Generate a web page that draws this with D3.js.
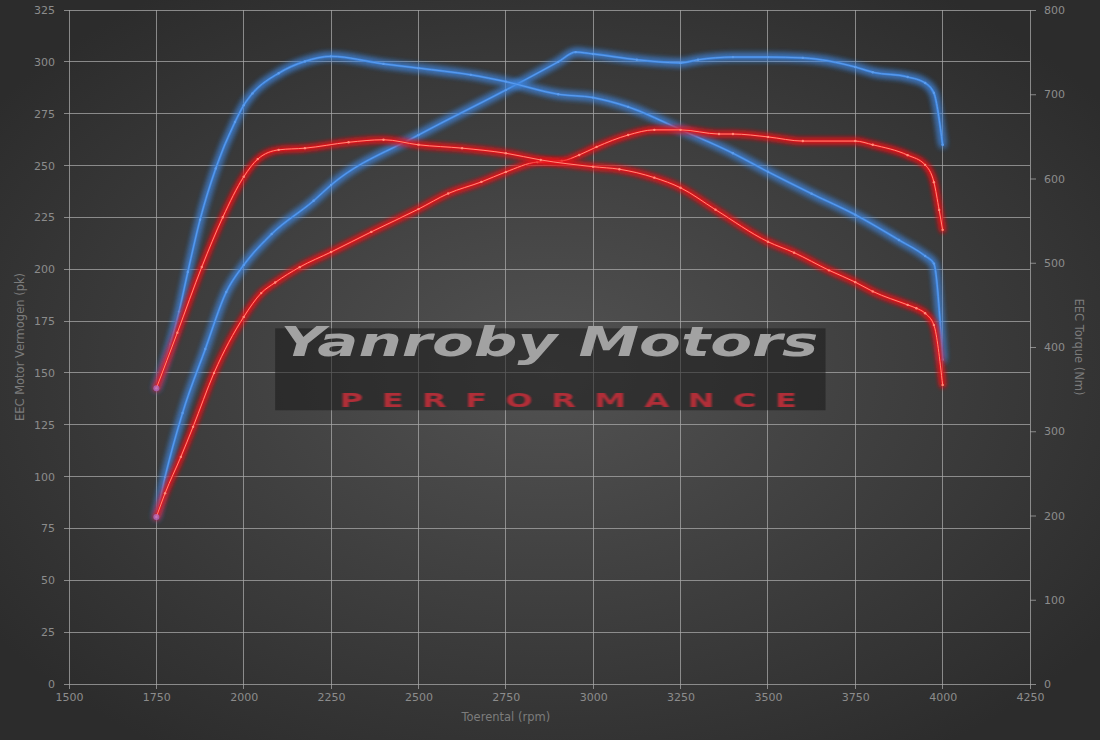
<!doctype html>
<html>
<head>
<meta charset="utf-8">
<title>Vermogen / Koppel</title>
<script src="https://d3js.org/d3.v7.min.js"></script>
<style>
  body { margin: 0; background: #333; }
  svg text { font-family: "DejaVu Sans", sans-serif; }
</style>
</head>
<body>
<div id="chart"></div>
<script>
// ---- data ----
var rpmTicks = [1500, 1750, 2000, 2250, 2500, 2750, 3000, 3250, 3500, 3750, 4000, 4250];
var pkTicks = [0, 25, 50, 75, 100, 125, 150, 175, 200, 225, 250, 275, 300, 325];
var nmTicks = [0, 100, 200, 300, 400, 500, 600, 700, 800];

// tuned power (pk)
var tunedPowerRpm = [1750, 1775, 1825, 1890, 1950, 2000, 2080, 2200, 2250, 2500, 2750, 2900, 2950, 3000, 3125, 3250, 3300, 3400, 3500, 3600, 3750, 3800, 3900, 3950, 3975, 4000];
var tunedPower    = [80.5, 99.8, 130.7, 161.5, 189, 202, 217, 233, 240.6, 264.7, 286.4, 300, 304.7, 303.8, 301, 299.5, 301, 302.3, 302.3, 301.9, 297.5, 295, 292.7, 289.8, 285, 260];

// stock power (pk)
var stockPowerRpm = [1750, 1775, 1820, 1855, 1915, 2000, 2050, 2090, 2160, 2250, 2365, 2500, 2585, 2680, 2750, 2840, 2910, 2960, 3010, 3100, 3175, 3250, 3360, 3400, 3500, 3600, 3750, 3800, 3900, 3950, 3975, 3990, 4000];
var stockPower    = [80.5, 92, 109.5, 124, 150, 177, 188.5, 193.6, 201, 208.3, 218, 229, 236.5, 242.1, 246.9, 251.7, 252.2, 255.1, 259, 264.7, 267.2, 267.2, 265.2, 265.2, 263.8, 261.8, 261.8, 260, 255, 250.3, 242, 228.6, 219];

// tuned torque (Nm)
var tunedTorqueRpm = [1750, 1790, 1815, 1840, 1875, 1920, 1975, 2000, 2025, 2100, 2175, 2250, 2400, 2500, 2650, 2750, 2900, 3000, 3100, 3250, 3400, 3500, 3625, 3750, 3875, 3950, 3975, 4000];
var tunedTorque    = [351, 403, 442, 489, 551, 612, 667, 687, 701, 725, 739, 745, 736, 731, 723, 715, 700, 696, 685, 658, 630, 608, 582, 557, 527, 508, 499, 385];

// stock torque (Nm)
var stockTorqueRpm = [1750, 1810, 1880, 1940, 2000, 2040, 2100, 2175, 2300, 2400, 2500, 2625, 2750, 2850, 3000, 3075, 3175, 3250, 3350, 3500, 3575, 3675, 3750, 3800, 3900, 3925, 3950, 3975, 4000];
var stockTorque    = [351, 417, 495, 554, 602, 623, 634, 636, 643, 646, 640, 636, 630, 622, 614, 611, 601, 589, 563, 525, 512, 491, 477, 466, 450, 446, 440, 426, 355];

// ---- layout ----
var W = 1100, H = 740;
var margin = {top: 10, right: 70, bottom: 56, left: 69},
    width = W - margin.left - margin.right,
    height = H - margin.top - margin.bottom;

var svg = d3.select("#chart").append("svg")
    .attr("width", W)
    .attr("height", H);

var defs = svg.append("defs");

var bg = defs.append("radialGradient")
    .attr("id", "bg")
    .attr("cx", "50%").attr("cy", "50%").attr("r", "62%");
bg.append("stop").attr("offset", "0%").attr("stop-color", "#525252");
bg.append("stop").attr("offset", "100%").attr("stop-color", "#2c2c2c");

// glow filters for the curves
function glow(id, sd) {
  var f = defs.append("filter").attr("id", id)
      .attr("x", "-10%").attr("y", "-10%").attr("width", "120%").attr("height", "120%");
  f.append("feGaussianBlur").attr("in", "SourceGraphic").attr("stdDeviation", sd).attr("result", "b");
  var m = f.append("feMerge");
  m.append("feMergeNode").attr("in", "b");
  m.append("feMergeNode").attr("in", "b");
}
glow("glowBlue", 3);
glow("glowRed", 2.6);

var wm = defs.append("filter").attr("id", "soft");
wm.append("feGaussianBlur").attr("stdDeviation", 0.7);

svg.append("rect").attr("width", W).attr("height", H).attr("fill", "url(#bg)");

var g = svg.append("g")
    .attr("transform", "translate(" + margin.left + "," + margin.top + ")");

var x = d3.scaleLinear().domain([1500, 4250]).range([0, width]);
var yL = d3.scaleLinear().domain([0, 325]).range([height, 0]);
var yR = d3.scaleLinear().domain([0, 800]).range([height, 0]);

// grid
g.append("g").selectAll("line.h")
  .data(pkTicks).enter().append("line")
    .attr("x1", -5).attr("x2", width)
    .attr("y1", function(d) { return yL(d); })
    .attr("y2", function(d) { return yL(d); })
    .attr("stroke", "#a8a8a8").attr("stroke-opacity", 0.75).attr("stroke-width", 1)
    .attr("shape-rendering", "crispEdges");

g.append("g").selectAll("line.v")
  .data(rpmTicks).enter().append("line")
    .attr("y1", 0).attr("y2", height + 5)
    .attr("x1", function(d) { return x(d); })
    .attr("x2", function(d) { return x(d); })
    .attr("stroke", "#a8a8a8").attr("stroke-opacity", 0.75).attr("stroke-width", 1)
    .attr("shape-rendering", "crispEdges");

// axes
var tickCol = "#8c8c8c";

var xAxis = g.append("g")
    .attr("transform", "translate(0," + height + ")")
    .call(d3.axisBottom(x).tickValues(rpmTicks).tickSize(0).tickPadding(9).tickFormat(d3.format("d")));

var yAxisL = g.append("g")
    .call(d3.axisLeft(yL).tickValues(pkTicks).tickSize(0).tickPadding(14).tickFormat(d3.format("d")));

var yAxisR = g.append("g")
    .attr("transform", "translate(" + width + ",0)")
    .call(d3.axisRight(yR).tickValues(nmTicks).tickSize(6).tickPadding(8).tickFormat(d3.format("d")));

[xAxis, yAxisL, yAxisR].forEach(function(a) {
  a.select(".domain").remove();
  a.selectAll("line").attr("stroke", "#a8a8a8").attr("stroke-opacity", 0.75);
  a.selectAll("text").attr("fill", tickCol).style("font-size", "11px");
});

// axis titles
svg.append("text")
    .attr("transform", "translate(24," + (margin.top + height / 2) + ") rotate(-90)")
    .attr("text-anchor", "middle")
    .attr("fill", "#7c7c7c").style("font-size", "11.5px")
    .text("EEC Motor Vermogen (pk)");

svg.append("text")
    .attr("transform", "translate(1075," + (margin.top + height / 2) + ") rotate(90)")
    .attr("text-anchor", "middle")
    .attr("fill", "#7c7c7c").style("font-size", "11.5px")
    .text("EEC Torque (Nm)");

svg.append("text")
    .attr("x", margin.left + x(2750)).attr("y", 721)
    .attr("text-anchor", "middle")
    .attr("fill", "#7c7c7c").style("font-size", "11.5px")
    .text("Toerental (rpm)");

// watermark
var wmG = g.append("g");
wmG.append("rect")
    .attr("x", x(2090)).attr("y", yL(171.5))
    .attr("width", x(3665) - x(2090)).attr("height", yL(132) - yL(171.5))
    .attr("fill", "#1a1a1a").attr("fill-opacity", 0.55);
wmG.append("text")
    .attr("x", x(2105)).attr("y", yL(158))
    .attr("textLength", 538).attr("lengthAdjust", "spacingAndGlyphs")
    .attr("fill", "#a2a2a2")
    .attr("filter", "url(#soft)")
    .style("font-family", "'DejaVu Sans', sans-serif")
    .style("font-weight", "bold").style("font-style", "italic")
    .style("font-size", "40px")
    .text("Yanroby Motors");
wmG.append("g")
    .attr("transform", "translate(" + x(2275) + "," + yL(133.5) + ") scale(1.6,1)")
  .append("text")
    .attr("textLength", 457 / 1.6).attr("lengthAdjust", "spacing")
    .attr("fill", "#b02e38")
    .attr("filter", "url(#soft)")
    .style("font-family", "'DejaVu Sans', sans-serif")
    .style("font-weight", "bold")
    .style("font-size", "20px")
    .text("PERFORMANCE");

// curves
function series(rpm, vals) {
  return rpm.map(function(r, i) { return [r, vals[i]]; });
}

var curves = [
  {pts: series(tunedPowerRpm, tunedPower), y: yL, col: "#3f86e0", core: "#5c9cec", glow: "glowBlue"},
  {pts: series(tunedTorqueRpm, tunedTorque), y: yR, col: "#3f86e0", core: "#5c9cec", glow: "glowBlue"},
  {pts: series(stockPowerRpm, stockPower), y: yL, col: "#e8141a", core: "#ff8a78", glow: "glowRed"},
  {pts: series(stockTorqueRpm, stockTorque), y: yR, col: "#e8141a", core: "#ff8a78", glow: "glowRed"}
];

curves.forEach(function(c) {
  var line = d3.line()
      .curve(d3.curveMonotoneX)
      .x(function(d) { return x(d[0]); })
      .y(function(d) { return c.y(d[1]); });

  var cg = g.append("g");
  cg.append("path")
      .datum(c.pts)
      .attr("d", line)
      .attr("fill", "none")
      .attr("stroke", c.col)
      .attr("stroke-width", 5)
      .attr("stroke-linecap", "round")
      .attr("filter", "url(#" + c.glow + ")")
      .attr("opacity", 0.85);
  cg.append("path")
      .datum(c.pts)
      .attr("d", line)
      .attr("fill", "none")
      .attr("stroke", c.col)
      .attr("stroke-width", 2.2)
      .attr("stroke-linecap", "round");
  cg.append("path")
      .datum(c.pts)
      .attr("d", line)
      .attr("fill", "none")
      .attr("stroke", c.core)
      .attr("stroke-width", 1)
      .attr("stroke-linecap", "round");
  cg.selectAll("circle")
    .data(c.pts).enter().append("circle")
      .attr("cx", function(d) { return x(d[0]); })
      .attr("cy", function(d) { return c.y(d[1]); })
      .attr("r", 1.2)
      .attr("fill", c.core);
});

// purple start dots where the stock and tuned runs meet
g.selectAll("circle.start")
  .data([[1750, 80.5, yL], [1750, 351, yR]]).enter().append("circle")
    .attr("cx", function(d) { return x(d[0]); })
    .attr("cy", function(d) { return d[2](d[1]); })
    .attr("r", 3)
    .attr("fill", "#b070c8")
    .attr("opacity", 0.75);
</script>
</body>
</html>
